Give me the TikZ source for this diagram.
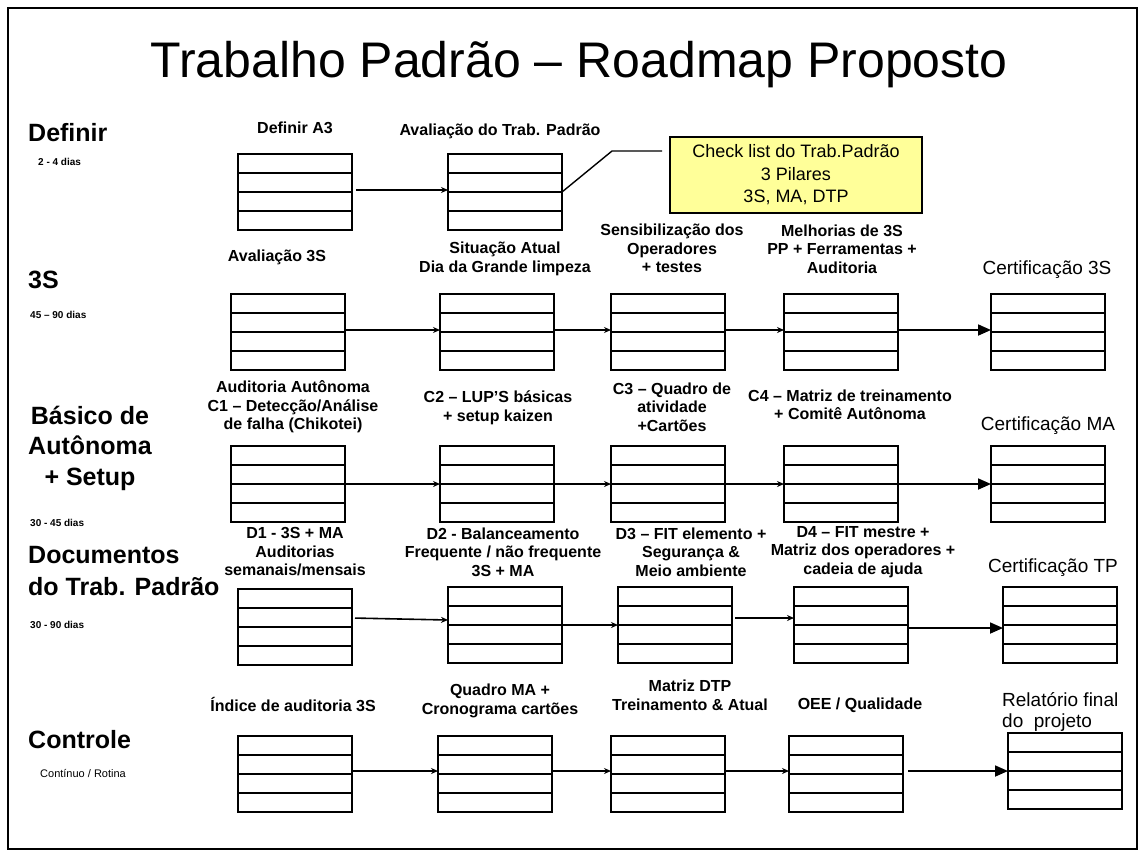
\documentclass[tikz,border=0pt]{standalone}
\usepackage{fontspec}
\setmainfont{Liberation Sans}
\usetikzlibrary{arrows.meta,calc}
\definecolor{notefill}{RGB}{255,255,153}

\tikzset{
  stepbox/.style={draw, line width=2pt, minimum width=114pt, minimum height=76pt,
    inner sep=0pt, outer sep=0pt,
    path picture={
      \foreach \f in {0.25,0.5,0.75}{
        \draw[line width=2pt]
          ($(path picture bounding box.north west)!\f!(path picture bounding box.south west)$) --
          ($(path picture bounding box.north east)!\f!(path picture bounding box.south east)$);
      }}},
  steplabel/.style={align=center, inner sep=0pt, font=\fontsize{16}{18.5}\selectfont\bfseries},
  certlabel/.style={align=center, inner sep=0pt, font=\fontsize{19}{21}\selectfont},
  rowlabel/.style={anchor=west, align=left, inner sep=0pt, font=\fontsize{25}{31}\selectfont\bfseries},
  durlabel/.style={anchor=west, inner sep=0pt, font=\fontsize{10}{12}\selectfont\bfseries},
  flow/.style={line width=1.6pt, -{Stealth[length=7pt,width=6pt]}},
  bigflow/.style={line width=1.8pt, -{Triangle[length=13pt,width=11pt]}},
}

\begin{document}
\begin{tikzpicture}[x=1pt,y=-1pt]
\useasboundingbox (0,0) rectangle (1143,857);
\draw[line width=2pt] (8,8) rectangle (1137,849);

% title
\node[inner sep=0pt, font=\fontsize{50}{56}\selectfont] (title) at (579,65) {Trabalho Padrão – Roadmap Proposto};

% row labels
\node[rowlabel] (rDef) at (28,133) {Definir};
\node[durlabel] (tDef) at (38,162) {2 - 4 dias};
\node[rowlabel] (r3S) at (28,280) {3S};
\node[durlabel] (t3S) at (30,315) {45 – 90 dias};
\node[align=center, inner sep=0pt, font=\fontsize{25}{30.5}\selectfont\bfseries] (rBas) at (90,448) {Básico de\\Autônoma\\+ Setup};
\node[durlabel] (tBas) at (30,523) {30 - 45 dias};
\node[rowlabel, font=\fontsize{25}{32}\selectfont\bfseries] (rDoc) at (28,571) {Documentos\\do Trab. Padrão};
\node[durlabel] (tDoc) at (30,625) {30 - 90 dias};
\node[rowlabel] (rCtl) at (28,740) {Controle};
\node[anchor=west, inner sep=0pt, font=\fontsize{11}{13}\selectfont] (tCtl) at (40,773) {Contínuo / Rotina};

% row 1: Definir
\node[stepbox] (a1) at (295,192) {};
\node[stepbox] (a2) at (505,192) {};
\node[steplabel] (la1) at (295,128) {Definir A3};
\node[steplabel] (la2) at (500,131) {Avaliação do Trab. Padrão};
\node[draw, line width=2pt, fill=notefill, minimum width=252pt, minimum height=76pt,
      align=center, inner sep=0pt, font=\fontsize{18}{22.5}\selectfont] (ck) at (796,175)
      {Check list do Trab.Padrão\\3 Pilares\\3S, MA, DTP};
\coordinate (k1) at (612,151);
\coordinate (k2) at (662,151);
\draw[flow, shorten <=4pt] ([yshift=2pt]a1.east) -- ([yshift=2pt]a2.west);
\draw[line width=1.4pt] (a2.east) -- (k1) -- (k2);

% row 2: 3S
\node[stepbox] (b1) at (288,332) {};
\node[stepbox] (b2) at (497,332) {};
\node[stepbox] (b3) at (668,332) {};
\node[stepbox] (b4) at (841,332) {};
\node[stepbox] (b5) at (1048,332) {};
\node[steplabel] (lb1) at (277,257) {Avaliação 3S};
\node[steplabel] (lb2) at (505,259) {Situação Atual\\Dia da Grande limpeza};
\node[steplabel] (lb3) at (672,248.5) {Sensibilização dos\\Operadores\\+ testes};
\node[steplabel] (lb4) at (842,249) {Melhorias de 3S\\PP + Ferramentas +\\Auditoria};
\node[certlabel] (lb5) at (1047,270) {Certificação 3S};
\draw[flow] ([yshift=2pt]b1.east) -- ([yshift=2pt]b2.west);
\draw[flow] ([yshift=2pt]b2.east) -- ([yshift=2pt]b3.west);
\draw[flow] ([yshift=2pt]b3.east) -- ([yshift=2pt]b4.west);
\draw[bigflow] ([yshift=2pt]b4.east) -- ([yshift=2pt]b5.west);

% row 3: Basico de Autonoma + Setup
\node[stepbox] (c1) at (288,484) {};
\node[stepbox] (c2) at (497,484) {};
\node[stepbox] (c3) at (668,484) {};
\node[stepbox] (c4) at (841,484) {};
\node[stepbox] (c5) at (1048,484) {};
\node[steplabel] (lc1) at (293,407) {Auditoria Autônoma\\C1 – Detecção/Análise\\de falha (Chikotei)};
\node[steplabel] (lc2) at (498,408) {C2 – LUP’S básicas\\+ setup kaizen};
\node[steplabel] (lc3) at (672,407) {C3 – Quadro de\\atividade\\+Cartões};
\node[steplabel] (lc4) at (850,405) {C4 – Matriz de treinamento\\+ Comitê Autônoma};
\node[certlabel] (lc5) at (1048,426) {Certificação MA};
\draw[flow] (c1) -- (c2);
\draw[flow] (c2) -- (c3);
\draw[flow] (c3) -- (c4);
\draw[bigflow] (c4) -- (c5);

% row 4: Documentos do Trabalho Padrao
\node[stepbox] (d1) at (295,627) {};
\node[stepbox] (d2) at (505,625) {};
\node[stepbox] (d3) at (675,625) {};
\node[stepbox] (d4) at (851,625) {};
\node[stepbox] (d5) at (1060,625) {};
\node[steplabel] (ld1) at (295,552) {D1 - 3S + MA\\Auditorias\\semanais/mensais};
\node[steplabel] (ld2) at (503,552) {D2 - Balanceamento\\Frequente / não frequente\\3S + MA};
\node[steplabel] (ld3) at (691,552) {D3 – FIT elemento +\\Segurança \&\\Meio ambiente};
\node[steplabel] (ld4) at (863,552) {D4 – FIT mestre +\\Matriz dos operadores +\\cadeia de ajuda};
\node[certlabel] (ld5) at (1053,568) {Certificação TP};
\draw[flow, shorten <=3pt] ([yshift=9pt]d1.east) -- ([yshift=5pt]d2.west);
\draw[flow] (d2) -- (d3);
\draw[flow, shorten <=3pt] ([yshift=7pt]d3.east) -- ([yshift=7pt]d4.west);
\draw[bigflow] ([yshift=-3pt]d4.east) -- ([yshift=-3pt]d5.west);

% row 5: Controle
\node[stepbox] (e1) at (295,774) {};
\node[stepbox] (e2) at (495,774) {};
\node[stepbox] (e3) at (668,774) {};
\node[stepbox] (e4) at (846,774) {};
\node[stepbox] (e5) at (1065,771) {};
\node[steplabel] (le1) at (293,704) {Índice de auditoria 3S};
\node[steplabel] (le2) at (500,701) {Quadro MA +\\Cronograma cartões};
\node[steplabel] (le3) at (690,695.5) {Matriz DTP\\Treinamento \& Atual};
\node[steplabel] (le4) at (860,705) {OEE / Qualidade};
\node[anchor=west, align=left, inner sep=0pt, font=\fontsize{19}{21}\selectfont] (le5) at (1002,712) {Relatório final\\do\ \ projeto};
\draw[flow] ([yshift=3pt]e1.east) -- ([yshift=3pt]e2.west);
\draw[flow] ([yshift=3pt]e2.east) -- ([yshift=3pt]e3.west);
\draw[flow] ([yshift=3pt]e3.east) -- ([yshift=3pt]e4.west);
\draw[bigflow, shorten <=5pt] ([yshift=3pt]e4.east) -- (e5.west);
\end{tikzpicture}
\end{document}
